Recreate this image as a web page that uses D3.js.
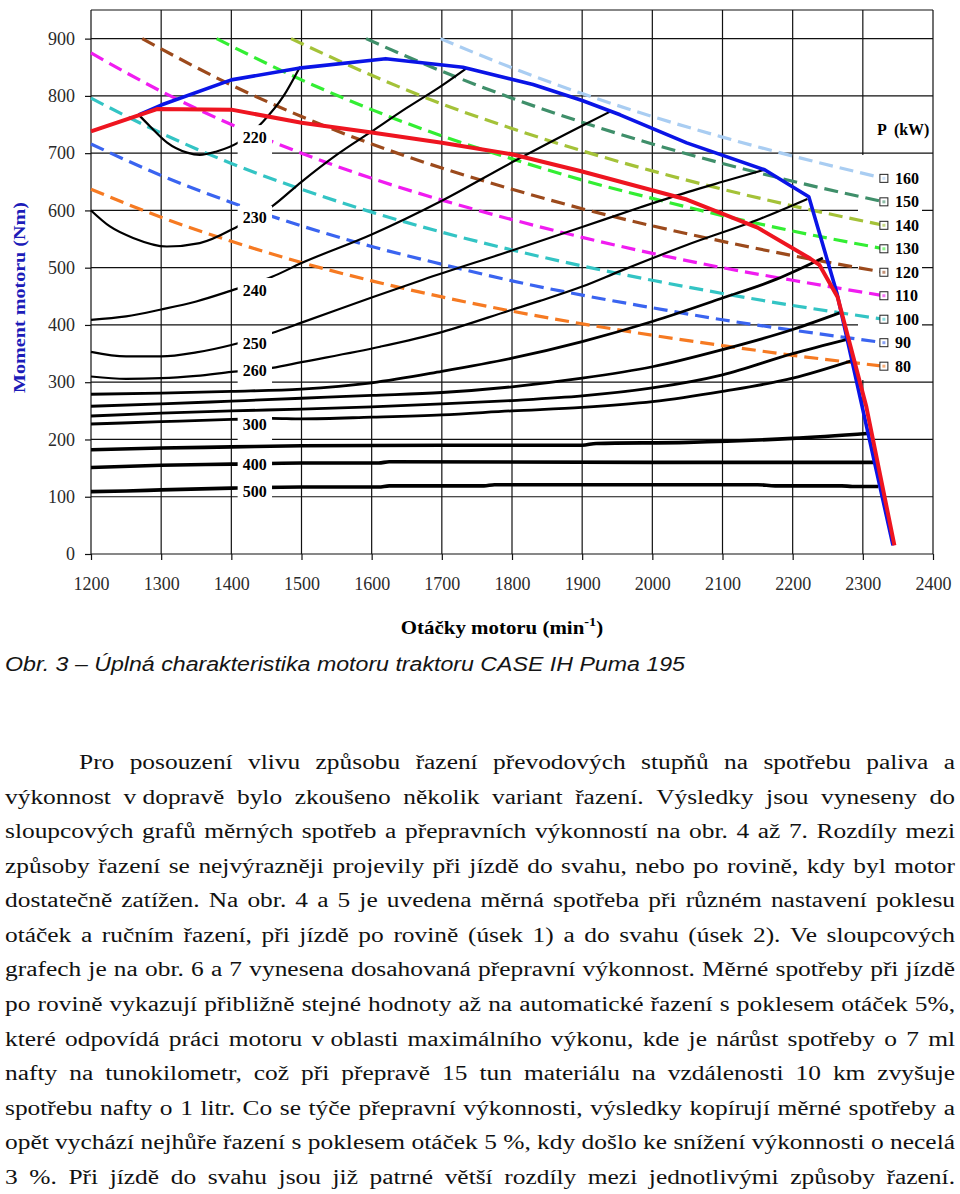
<!DOCTYPE html>
<html>
<head>
<meta charset="utf-8">
<script src="https://cdn.jsdelivr.net/npm/d3@7"></script>
<style>
html, body { margin: 0; padding: 0; background: #fff; }
svg { display: block; }
.serif { font-family: "Liberation Serif", "Times New Roman", Times, serif; }
.sans { font-family: "Liberation Sans", Arial, Helvetica, sans-serif; }
</style>
</head>
<body>
<svg id="page" width="960" height="1194"></svg>
<script>
// ---- data ----
const rpmTicks = [1200, 1300, 1400, 1500, 1600, 1700, 1800, 1900, 2000, 2100, 2200, 2300, 2400];
const torqueTicks = [0, 100, 200, 300, 400, 500, 600, 700, 800, 900];

// full load torque (rpm, Nm)
const blueCurve = [[1268,767],[1300,784],[1400,828],[1500,849],[1620,865],[1730,850],[1830,820],
  [1900,792],[1954,767],[2049,718],[2160,671],[2223,624],[2263,456],[2343,15]];
const redCurve = [[1200,738],[1294,777],[1400,776],[1500,753],[1600,736],[1700,718],[1800,698],[1900,668],
  [2049,619],[2150,570],[2225,516],[2238,505],[2264,449],[2305,257],[2345,15]];

// constant power lines P (kW)
const powerLevels = [160, 150, 140, 130, 120, 110, 100, 90, 80];
const powerColors = ['#a9cdf2', '#3f8f6a', '#a4c238', '#33ee33', '#9c4a1c', '#f01cf0', '#33c4c4', '#3a64f0', '#f67a22'];
const powerCurves = [
  [[1698,900],[1800,849],[1900,804],[2000,764],[2100,728],[2200,695],[2330,656]],
  [[1592,900],[1700,843],[1800,796],[1900,754],[2000,716],[2100,682],[2200,651],[2330,615]],
  [[1485,900],[1600,836],[1700,786],[1800,743],[1900,704],[2000,669],[2100,637],[2200,608],[2330,574]],
  [[1379,900],[1500,828],[1600,776],[1700,730],[1800,690],[1900,653],[2000,621],[2100,591],[2200,564],[2330,533]],
  [[1273,900],[1400,819],[1500,764],[1600,716],[1700,674],[1800,637],[1900,603],[2000,573],[2100,546],[2200,521],[2330,492]],
  [[1200,875],[1300,808],[1400,750],[1500,700],[1600,656],[1700,618],[1800,584],[1900,553],[2000,525],[2100,500],[2200,478],[2330,451]],
  [[1200,796],[1300,735],[1400,682],[1500,637],[1600,597],[1700,562],[1800,531],[1900,503],[2000,478],[2100,455],[2200,434],[2330,410]],
  [[1200,716],[1300,661],[1400,614],[1500,573],[1600,537],[1700,506],[1800,477],[1900,452],[2000,430],[2100,409],[2200,391],[2330,369]],
  [[1200,637],[1300,588],[1400,546],[1500,509],[1600,477],[1700,449],[1800,424],[1900,402],[2000,382],[2100,364],[2200,347],[2330,328]]
];

// specific fuel consumption lines (g/kWh)
const bsfcLabels = ['220', '230', '240', '250', '260', '', '', '', '300', '', '400', '500'];
const bsfcLabelTorque = [728, 587, 461, 368, 321, null, null, null, 227, null, 157, 110];
const bsfcCurves = [
  [[1268,767],[1284,747],[1308,719],[1337,701],[1355,697],[1379,703],[1409,718],[1445,755],[1474,799],[1498,851]],
  [[1200,600],[1227,572],[1260,552],[1308,537],[1355,543],[1409,572],[1458,607],[1500,650],[1550,697],[1600,738],[1650,779],[1700,818],[1736,849]],
  [[1200,409],[1250,415],[1300,427],[1350,441],[1400,460],[1458,484],[1500,508],[1600,558],[1700,617],[1800,684],[1900,748],[1939,772]],
  [[1200,353],[1250,345],[1300,345],[1350,352],[1400,365],[1458,386],[1500,404],[1600,448],[1673,479],[1800,530],[1900,571],[1982,605],[2050,632],[2100,650],[2160,671]],
  [[1200,310],[1250,306],[1300,307],[1350,311],[1400,318],[1458,325],[1500,335],[1612,362],[1701,388],[1801,427],[1840,442],[1900,467],[1954,494],[2050,540],[2153,585],[2221,620]],
  [[1200,279],[1300,281],[1400,284],[1500,288],[1600,299],[1700,319],[1800,342],[1900,371],[2000,406],[2100,447],[2177,480],[2243,517]],
  [[1200,258],[1300,262],[1400,267],[1500,272],[1600,277],[1700,282],[1800,292],[1900,307],[2000,327],[2100,357],[2200,392],[2267,421]],
  [[1200,241],[1300,246],[1400,250],[1500,253],[1600,257],[1700,262],[1800,268],[1900,276],[2000,290],[2100,313],[2200,350],[2278,375]],
  [[1200,227],[1300,231],[1400,235],[1458,237],[1500,236],[1600,239],[1700,243],[1800,250],[1900,256],[2000,266],[2100,284],[2200,307],[2288,339]],
  [[1200,182],[1300,185],[1400,187],[1500,189],[1700,190],[1900,190],[1920,193],[2050,195],[2200,202],[2310,211]],
  [[1200,151],[1300,155],[1400,157],[1500,159],[1610,159],[1625,161],[2000,160],[2317,160]],
  [[1200,109],[1250,110],[1300,112],[1400,115],[1500,117],[1610,117],[1625,119],[1760,119],[1775,121],[2150,121],[2175,119],[2270,119],[2285,118],[2322,118]]
];
const labelGapRpm = [1409, 1458];

const captionText = 'Obr. 3 – Úplná charakteristika motoru traktoru CASE IH Puma 195';
const bodyLines = [
  'Pro posouzení vlivu způsobu řazení převodových stupňů na spotřebu paliva a',
  'výkonnost v\u00a0dopravě bylo zkoušeno několik variant řazení. Výsledky jsou vyneseny do',
  'sloupcových grafů měrných spotřeb a přepravních výkonností na obr. 4 až 7. Rozdíly mezi',
  'způsoby řazení se nejvýrazněji projevily při jízdě do svahu, nebo po rovině, kdy byl motor',
  'dostatečně zatížen. Na obr. 4 a 5 je uvedena měrná spotřeba při různém nastavení poklesu',
  'otáček a ručním řazení, při jízdě po rovině (úsek 1) a do svahu (úsek 2). Ve sloupcových',
  'grafech je na obr. 6 a 7 vynesena dosahovaná přepravní výkonnost. Měrné spotřeby při jízdě',
  'po rovině vykazují přibližně stejné hodnoty až na automatické řazení s poklesem otáček 5%,',
  'které odpovídá práci motoru v\u00a0oblasti maximálního výkonu, kde je nárůst spotřeby o 7 ml',
  'nafty na tunokilometr, což při přepravě 15 tun materiálu na vzdálenosti 10 km zvyšuje',
  'spotřebu nafty o 1 litr. Co se týče přepravní výkonnosti, výsledky kopírují měrné spotřeby a',
  'opět vychází nejhůře řazení s poklesem otáček 5 %, kdy došlo ke snížení výkonnosti o necelá',
  '3 %. Při jízdě do svahu jsou již patrné větší rozdíly mezi jednotlivými způsoby řazení.'
];

// ---- drawing ----
const svg = d3.select('#page');

const x = d3.scaleLinear().domain([1200, 2400]).range([91, 933]);
const y = d3.scaleLinear().domain([0, 950]).range([554, 10]);

const line = d3.line().x(d => x(d[0])).y(d => y(d[1]));
const smooth = d3.line().x(d => x(d[0])).y(d => y(d[1])).curve(d3.curveMonotoneX);

// grid
const grid = svg.append('g').attr('stroke', '#111').attr('stroke-width', 1.2);
grid.selectAll('line.v').data(rpmTicks).join('line')
  .attr('x1', d => x(d)).attr('x2', d => x(d))
  .attr('y1', y(0)).attr('y2', y(950));
grid.selectAll('line.h').data(torqueTicks.concat([950])).join('line')
  .attr('x1', x(1200)).attr('x2', x(2400))
  .attr('y1', d => y(d)).attr('y2', d => y(d));

// axes with outward ticks and labels
const xAxis = svg.append('g').attr('transform', `translate(0,${y(0)})`)
  .call(d3.axisBottom(x).tickValues(rpmTicks).tickSize(6).tickPadding(17).tickFormat(d3.format('d')));
const yAxis = svg.append('g').attr('transform', `translate(${x(1200)},0)`)
  .call(d3.axisLeft(y).tickValues(torqueTicks).tickSize(6).tickPadding(10).tickFormat(d3.format('d')));
[xAxis, yAxis].forEach(a => {
  a.attr('font-family', null);
  a.select('.domain').remove();
  a.selectAll('.tick line').attr('stroke', '#111').attr('stroke-width', 1.2);
  a.selectAll('.tick text').attr('class', 'serif').attr('font-size', 18).attr('fill', '#2a2a2a');
});

// white area behind the P (kW) labels
svg.append('rect').attr('x', 858).attr('y', 155).attr('width', 64).attr('height', 225).attr('fill', '#fff');

// constant power dashed lines
svg.append('g').selectAll('path').data(powerCurves).join('path')
  .attr('d', smooth)
  .attr('fill', 'none')
  .attr('stroke', (d, i) => powerColors[i])
  .attr('stroke-width', 3.2)
  .attr('stroke-dasharray', '14,7');

// labelled consumption curves (broken by their labels)
const bsfcWidth = i => i < 5 ? 2.2 : (i < 9 ? 2.8 : 3.6);
svg.append('g').selectAll('path')
  .data(bsfcCurves.map((c, i) => ({ c, i })).filter(d => bsfcLabels[d.i] !== '' || d.i === 9))
  .join('path')
  .attr('d', d => smooth(d.c))
  .attr('fill', 'none').attr('stroke', '#000')
  .attr('stroke-width', d => bsfcWidth(d.i));

// white label boxes
const labelled = bsfcLabels.map((l, i) => ({ l, t: bsfcLabelTorque[i] })).filter(d => d.l !== '');
svg.append('g').selectAll('rect').data(labelled).join('rect')
  .attr('x', x(labelGapRpm[0])).attr('width', x(labelGapRpm[1]) - x(labelGapRpm[0]))
  .attr('y', d => y(d.t) - 12).attr('height', 29)
  .attr('fill', '#fff');

// unlabelled consumption curves on top
svg.append('g').selectAll('path')
  .data(bsfcCurves.map((c, i) => ({ c, i })).filter(d => bsfcLabels[d.i] === '' && d.i !== 9))
  .join('path')
  .attr('d', d => smooth(d.c))
  .attr('fill', 'none').attr('stroke', '#000')
  .attr('stroke-width', d => bsfcWidth(d.i));

// full load curves
svg.append('path').attr('d', line(blueCurve)).attr('fill', 'none')
  .attr('stroke', '#0a14e6').attr('stroke-width', 3.6).attr('stroke-linejoin', 'round');
svg.append('path').attr('d', line(redCurve)).attr('fill', 'none')
  .attr('stroke', '#ee1520').attr('stroke-width', 4).attr('stroke-linejoin', 'round');

// curve labels
svg.append('g').selectAll('text').data(labelled).join('text')
  .attr('class', 'serif')
  .attr('x', (x(labelGapRpm[0]) + x(labelGapRpm[1])) / 2)
  .attr('y', d => y(d.t) + 5.5)
  .attr('text-anchor', 'middle')
  .attr('font-weight', 'bold').attr('font-size', 16)
  .text(d => d.l);

// power legend: marker at the end of each line plus its value
const ends = powerCurves.map((c, i) => ({ p: c[c.length - 1], level: powerLevels[i], color: powerColors[i] }));
const leg = svg.append('g');
leg.selectAll('rect.o').data(ends).join('rect')
  .attr('x', d => x(d.p[0]) - 4).attr('y', d => y(d.p[1]) - 4)
  .attr('width', 8).attr('height', 8)
  .attr('fill', '#fff').attr('stroke', '#222').attr('stroke-width', 1);
leg.selectAll('rect.i').data(ends).join('rect')
  .attr('x', d => x(d.p[0]) - 1.5).attr('y', d => y(d.p[1]) - 1.5)
  .attr('width', 3).attr('height', 3)
  .attr('fill', d => d.color).attr('opacity', 0.6);
leg.selectAll('text').data(ends).join('text')
  .attr('class', 'serif')
  .attr('x', d => x(d.p[0]) + 11).attr('y', d => y(d.p[1]) + 5.5)
  .attr('font-weight', 'bold').attr('font-size', 16)
  .text(d => d.level);
svg.append('text').attr('class', 'serif').attr('x', 877).attr('y', 135)
  .attr('font-weight', 'bold').attr('font-size', 16)
  .attr('xml:space', 'preserve')
  .text('P  (kW)');

// axis titles
svg.append('text').attr('class', 'serif')
  .attr('transform', 'translate(25,393) rotate(-90)')
  .attr('font-weight', 'bold').attr('font-size', 17)
  .attr('fill', '#1c1cb8')
  .attr('textLength', 191).attr('lengthAdjust', 'spacingAndGlyphs')
  .text('Moment motoru (Nm)');
const xt = svg.append('text').attr('class', 'serif')
  .attr('transform', 'translate(502,634) scale(1.1,1)')
  .attr('text-anchor', 'middle')
  .attr('font-weight', 'bold').attr('font-size', 19);
xt.append('tspan').text('Otáčky motoru (min');
xt.append('tspan').attr('dy', -8).attr('font-size', 13).text('-1');
xt.append('tspan').attr('dy', 8).text(')');

// caption
svg.append('text').attr('class', 'sans').attr('x', 5).attr('y', 671)
  .attr('font-style', 'italic')
  .attr('font-size', 20).attr('fill', '#141414')
  .attr('textLength', 680).attr('lengthAdjust', 'spacingAndGlyphs')
  .text(captionText);

// body paragraph, justified line by line
const para = svg.append('g').attr('font-size', 20).attr('fill', '#111');
const left = i => i === 0 ? 79 : 5;
const right = 955;
const probe = para.append('text').attr('class', 'serif');
const natural = bodyLines.map(s => probe.text(s).node().getComputedTextLength());
probe.remove();
const sx = d3.min(bodyLines, (s, i) => (right - left(i)) / natural[i]);
bodyLines.forEach((s, i) => {
  const yb = 769 + i * 34.58;
  const g = para.append('g').attr('transform', `translate(${left(i)},${yb}) scale(${sx},1)`);
  const words = s.split(' ');
  const nodes = words.map(w => g.append('text').attr('class', 'serif').text(w));
  const widths = nodes.map(n => n.node().getComputedTextLength());
  const gap = ((right - left(i)) / sx - d3.sum(widths)) / (words.length - 1);
  let cx = 0;
  nodes.forEach((n, k) => { n.attr('x', cx); cx += widths[k] + gap; });
});
</script>
</body>
</html>
